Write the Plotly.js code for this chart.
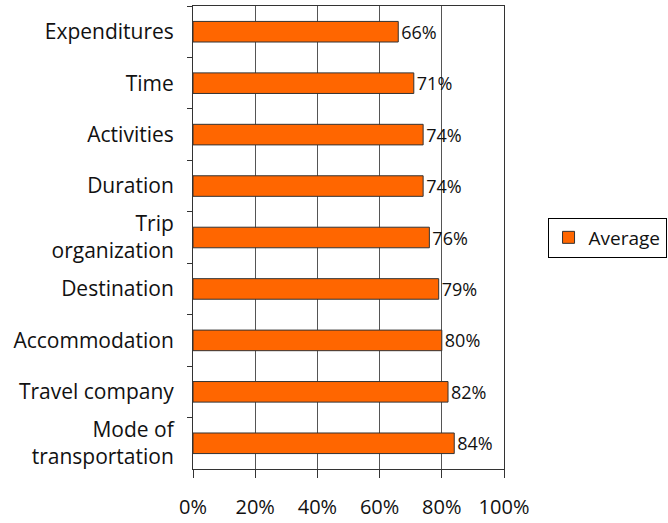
<!DOCTYPE html>
<html><head><meta charset="utf-8">
<script src="https://cdn.plot.ly/plotly-3.0.1.min.js"></script>
<style>html,body{margin:0;padding:0;background:#fff}#chart{width:668px;height:523px}</style>
</head><body><div id="chart"></div>
<script>
const categories = ["Expenditures","Time","Activities","Duration","Trip<br>organization","Destination","Accommodation","Travel company","Mode of<br>transportation"];
const averageValues = [66,71,74,74,76,79,80,82,84];
const xTickValues = [0,20,40,60,80,100];
const xTickLabels = ["0%","20%","40%","60%","80%","100%"];

const fam = "Open Sans, sans-serif";
const font = {family: fam, size: 20, color: "#111"};
const trace = {
  type: "bar", orientation: "h", name: "Average",
  y: categories, x: averageValues,
  text: averageValues.map(v => v + "%"), textposition: "outside",
  constraintext: "none",
  textfont: {family: fam, size: 18, color: "#111"},
  cliponaxis: false,
  marker: {color: "#FF6600", line: {color: "#333", width: 1}},
  width: 0.4
};
const layout = {
  width: 668, height: 523,
  margin: {l: 193, r: 164, t: 6, b: 54, autoexpand: false},
  paper_bgcolor: "#fff", plot_bgcolor: "#fff",
  font: font,
  showlegend: true,
  legend: {x: 1.14, xanchor: "left", y: 0.5, yanchor: "middle", bordercolor: "#000", borderwidth: 1,
           font: {family: fam, size: 19, color: "#111"}, bgcolor: "#fff", itemwidth: 30},
  xaxis: {range: [0, 100], tickvals: xTickValues, ticktext: xTickLabels,
          showgrid: true, gridcolor: "#555", gridwidth: 1,
          showline: true, linecolor: "#333", mirror: true, zeroline: false,
          ticks: "outside", ticklen: 8, tickcolor: "#333", ticklabelstandoff: 12,
          tickfont: {size: 20}},
  yaxis: {type: "category", autorange: "reversed", tickson: "boundaries",
          showgrid: false, showline: true, linecolor: "#333", mirror: true,
          ticks: "outside", ticklen: 5, tickcolor: "#333", ticklabelstandoff: 14,
          tickfont: {size: 21}},
  bargap: 0.6
};
Plotly.newPlot("chart", [trace], layout, {displayModeBar: false, staticPlot: true});
</script></body></html>
